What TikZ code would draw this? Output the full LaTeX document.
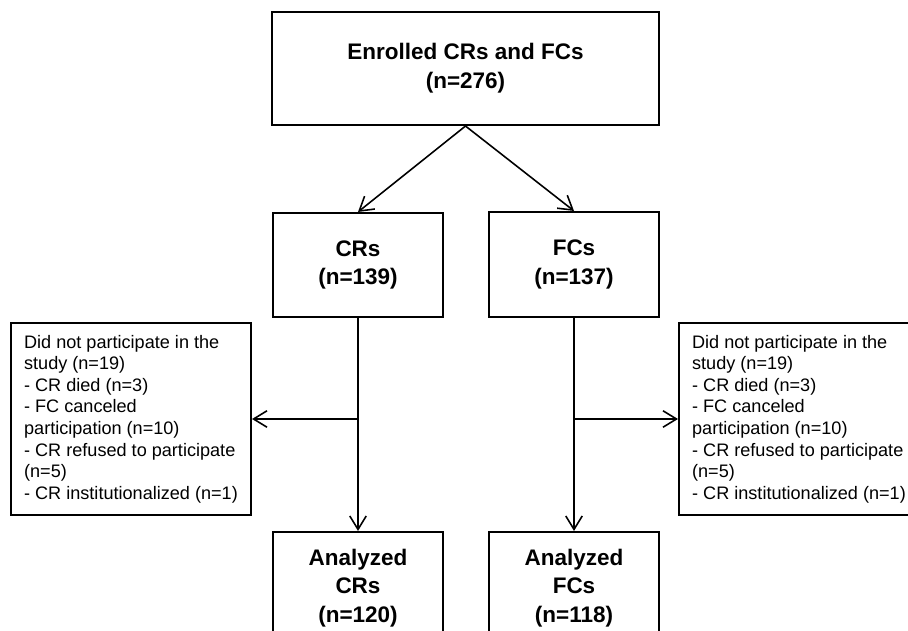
\documentclass[tikz,border=0pt]{standalone}
\usepackage{fontspec}
\setmainfont{Liberation Sans}
\usetikzlibrary{arrows.meta,calc}

\tikzset{
	stagebox/.style={draw, line width=1.2pt, inner sep=0pt, align=center,
		font=\bfseries\fontsize{12.8}{16.3}\selectfont},
	dropbox/.style={draw, line width=1.2pt, inner sep=0pt,
		minimum width=4.8cm, minimum height=3.84cm, align=left,
		font=\fontsize{10.3}{12.3}\selectfont},
	flow/.style={line width=0.9pt, -{Straight Barb[length=2.7mm,width=3.3mm]}}
}

\begin{document}
\begin{tikzpicture}[x=0.02cm, y=-0.02cm]
		%%%%% START %%%%%
		\useasboundingbox (0, 0) rectangle (908, 631);
		\clip (0, 0) rectangle (908, 631);
		
		\node[stagebox, minimum width=7.74cm, minimum height=2.26cm] (enrolled) at (465.5, 68.5) {Enrolled CRs and FCs\\(n=276)};
		
		\node[stagebox, minimum width=3.4cm, minimum height=2.08cm] (crs) at (358, 265) {CRs\\(n=139)};
		\node[stagebox, minimum width=3.4cm, minimum height=2.1cm] (fcs) at (574, 264.5) {FCs\\(n=137)};
		
		\node[stagebox, minimum width=3.4cm, minimum height=2.24cm] (acrs) at (358, 588) {Analyzed\\CRs\\(n=120)};
		\node[stagebox, minimum width=3.4cm, minimum height=2.24cm] (afcs) at (574, 588) {Analyzed\\FCs\\(n=118)};
		
		\node[dropbox] (crout) at (131, 419) {Did not participate in the\\study (n=19)\\- CR died (n=3)\\- FC canceled\\participation (n=10)\\- CR refused to participate\\(n=5)\\- CR institutionalized (n=1)};
		\node[dropbox] (fcout) at (799, 419) {Did not participate in the\\study (n=19)\\- CR died (n=3)\\- FC canceled\\participation (n=10)\\- CR refused to participate\\(n=5)\\- CR institutionalized (n=1)};
		
		\draw[flow] (enrolled.south) -- (crs.north);
		\draw[flow] (enrolled.south) -- (fcs.north);
		
		\draw[flow] (crs.south) -- (acrs.north);
		\draw[flow] (fcs.south) -- (afcs.north);
		
		\coordinate (crsplit) at (crs.south |- crout.east);
		\coordinate (fcsplit) at (fcs.south |- fcout.west);
		\draw[flow] (crsplit) -- (crout.east);
		\draw[flow] (fcsplit) -- (fcout.west);
		%%%%% END %%%%%
	\end{tikzpicture}
\end{document}
